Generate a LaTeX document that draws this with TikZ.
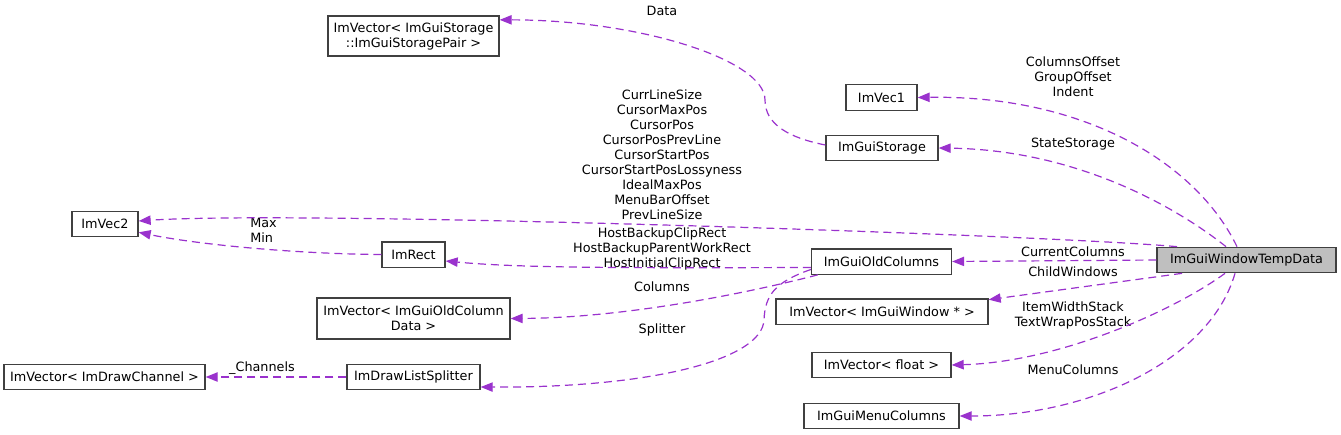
\documentclass[tikz,border=0pt]{standalone}
\usepackage{fontspec}
\setmainfont{DejaVu Sans}
\usepackage{tikz}
\usetikzlibrary{arrows.meta, calc}

\definecolor{edgepurple}{HTML}{9A32CD}
\definecolor{boxline}{HTML}{404040}
\definecolor{rootfill}{HTML}{BFBFBF}

\begin{document}
\begin{tikzpicture}[
    x=0.75pt, y=-0.75pt,
    every node/.style={font=\fontsize{9.6}{11.25}\selectfont},
    classbox/.style={rectangle, draw=boxline, line width=1pt, fill=white, inner sep=0pt, minimum height=19pt, align=center},
    rootbox/.style={classbox, fill=rootfill},
    member/.style={draw=edgepurple, line width=0.9pt, dash pattern=on 6pt off 3.75pt, -{Triangle[length=9pt, width=7pt, fill=edgepurple]}},
    lbl/.style={inner sep=0pt, align=center},
    ]
    \useasboundingbox (0,0) rectangle (1341,435);

    %Nodes
    \node[rootbox, minimum width=134.25pt] (tmp) at (1246.5,260) {ImGuiWindowTempData};
    \node[classbox, minimum width=53.25pt] (veci) at (881.5,97.5) {ImVec1};
    \node[classbox, minimum width=84pt] (storage) at (882,148) {ImGuiStorage};
    \node[classbox, minimum width=105pt] (oldcols) at (881.5,261.5) {ImGuiOldColumns};
    \node[classbox, minimum width=159pt] (windows) at (882,311.5) {ImVector< ImGuiWindow * >};
    \node[classbox, minimum width=104.25pt] (floats) at (881.5,365) {ImVector< float >};
    \node[classbox, minimum width=116.25pt] (menucols) at (881.5,416) {ImGuiMenuColumns};
    \node[classbox, minimum width=128.25pt, minimum height=30pt] (storpair) at (413.5,36) {ImVector< ImGuiStorage\\::ImGuiStoragePair >};
    \node[classbox, minimum width=47.25pt] (rect) at (413.5,254.5) {ImRect};
    \node[classbox, minimum width=144.75pt, minimum height=30.75pt] (coldata) at (413.5,318.5) {ImVector< ImGuiOldColumn\\Data >};
    \node[classbox, minimum width=99.75pt] (splitter) at (413.5,377) {ImDrawListSplitter};
    \node[classbox, minimum width=49.5pt] (vecii) at (105,224) {ImVec2};
    \node[classbox, minimum width=150.75pt] (drawchan) at (104.5,377) {ImVector< ImDrawChannel >};

    %Labels
    \node[lbl] (lbloffset) at (1073,77) {ColumnsOffset\\GroupOffset\\Indent};
    \node[lbl] (lblstate) at (1073,144) {StateStorage};
    \node[lbl] (lblcursor) at (662,155) {CurrLineSize\\CursorMaxPos\\CursorPos\\CursorPosPrevLine\\CursorStartPos\\CursorStartPosLossyness\\IdealMaxPos\\MenuBarOffset\\PrevLineSize};
    \node[lbl] (lblcurrent) at (1073,252) {CurrentColumns};
    \node[lbl] (lblchild) at (1073,272) {ChildWindows};
    \node[lbl] (lblstack) at (1073,315.5) {ItemWidthStack\\TextWrapPosStack};
    \node[lbl] (lblmenu) at (1073,370) {MenuColumns};
    \node[lbl] (lbldata) at (662,11) {Data};
    \node[lbl] (lblhost) at (662,248.5) {HostBackupClipRect\\HostBackupParentWorkRect\\HostInitialClipRect};
    \node[lbl] (lblcolumns) at (662,287) {Columns};
    \node[lbl] (lblsplitter) at (662,330) {Splitter};
    \node[lbl, align=left, anchor=west] (lblminmax) at (250,230.5) {Max\\Min};
    \node[lbl] (lblchannels) at (262,368) {\_Channels};

    %Edges
    \draw[member] ($(tmp.north)+(-9.5,0)$) .. controls (1195,160) and (1080,95) .. (veci.east);
    \draw[member] ($(tmp.north)+(-20.5,0)$) .. controls (1180,210) and (1080,150) .. (storage.east);
    \draw[member] ($(tmp.north)+(-69.5,0)$) .. controls (1050,235) and (300,210) .. ($(vecii.east)+(0,-3)$);
    \draw[member] (tmp.west) -- (oldcols.east);
    \draw[member] ($(tmp.south)+(-64.5,0)$) -- ($(windows.north east)+(0,1.5)$);
    \draw[member] ($(tmp.south)+(-21.5,0)$) .. controls (1175,310) and (1060,362) .. (floats.east);
    \draw[member] ($(tmp.south)+(-11.5,0)$) .. controls (1210,360) and (1090,416) .. (menucols.east);
    \draw[member] ($(storage.west)+(0,-3)$) .. controls (790,138) and (765,125) .. (765,100)
        .. controls (765,60) and (640,20) .. ($(storpair.north east)+(0,4.5)$);
    \draw[member] (rect.west) .. controls (300,254) and (200,245) .. ($(vecii.south east)+(0,-5)$);
    \draw[member] ($(oldcols.west)+(0,6)$) .. controls (620,268) and (520,268) .. ($(rect.east)+(0,6.5)$);
    \draw[member] ($(oldcols.south west)+(7,0)$) .. controls (740,295) and (620,318) .. (coldata.east);
    \draw[member] ($(oldcols.west)+(0,8)$) .. controls (775,282) and (765,295) .. (764,320)
        .. controls (762,360) and (650,388) .. ($(splitter.east)+(0,10)$);
    \draw[member] (splitter.west) -- (drawchan.east);
\end{tikzpicture}
\end{document}
